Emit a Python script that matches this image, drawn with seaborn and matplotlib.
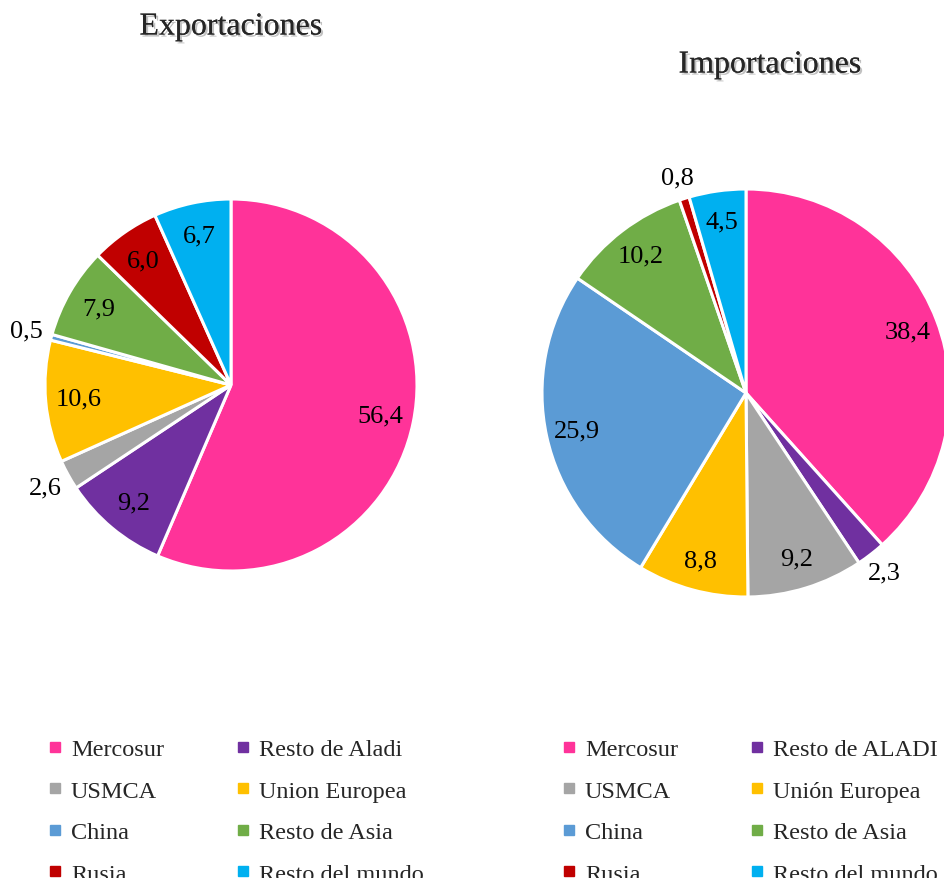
import numpy as np
import seaborn as sns
import matplotlib.pyplot as plt
import matplotlib.patheffects as pe
from matplotlib.lines import Line2D

# Data
exp_labels = ['Mercosur', 'Resto de Aladi', 'USMCA', 'Union Europea',
              'China', 'Resto de Asia', 'Rusia', 'Resto del mundo']
exp_values = [56.4, 9.2, 2.6, 10.6, 0.5, 7.9, 6.0, 6.7]
exp_text = ['56,4', '9,2', '2,6', '10,6', '0,5', '7,9', '6,0', '6,7']

imp_labels = ['Mercosur', 'Resto de ALADI', 'USMCA', 'Unión Europea',
              'China', 'Resto de Asia', 'Rusia', 'Resto del mundo']
imp_values = [38.4, 2.3, 9.2, 8.8, 25.9, 10.2, 0.8, 4.5]
imp_text = ['38,4', '2,3', '9,2', '8,8', '25,9', '10,2', '0,8', '4,5']

colors = ['#FF3399', '#7030A0', '#A5A5A5', '#FFC000',
          '#5B9BD5', '#70AD47', '#C00000', '#00B0F0']

sns.set_theme(style='white')
plt.rcParams['font.family'] = ['Liberation Serif', 'DejaVu Serif']

W, H = 945, 879
fig = plt.figure(figsize=(W / 100, H / 100), dpi=100)
ax = fig.add_axes([0, 0, 1, 1])

pal = sns.color_palette(colors)


def draw_pie(values, texts, center, radius, in_dist, out_dist, small):
    wedges, _ = ax.pie(values, colors=pal, startangle=90, counterclock=False,
                       center=center, radius=radius, normalize=True,
                       wedgeprops=dict(edgecolor='white', linewidth=2.2))
    for w, t, v in zip(wedges, texts, values):
        mid = np.deg2rad((w.theta1 + w.theta2) / 2)
        d = out_dist if v < small else in_dist
        ax.text(center[0] + d * radius * np.cos(mid),
                center[1] + d * radius * np.sin(mid),
                t, ha='center', va='center', fontsize=19, color='black')


draw_pie(exp_values, exp_text, (231, H - 386), 186, 0.82, 1.14, 3)
draw_pie(imp_values, imp_text, (746, H - 394), 204, 0.85, 1.11, 3)

# pie() changes limits, so set them afterwards
ax.set_xlim(0, W)
ax.set_ylim(0, H)
ax.set_aspect('equal')
ax.axis('off')

shadow = [pe.withSimplePatchShadow(offset=(1.5, -1.5), shadow_rgbFace='#999999', alpha=0.6),
          pe.Normal()]
fig.text(231 / W, 1 - 28 / H, 'Exportaciones', ha='center', va='center',
         fontsize=23, path_effects=shadow)
fig.text(770 / W, 1 - 66 / H, 'Importaciones', ha='center', va='center',
         fontsize=23, path_effects=shadow)


def make_legend(labels, x0):
    order = [0, 2, 4, 6, 1, 3, 5, 7]
    handles = [Line2D([], [], marker='s', linestyle='', markersize=6.5,
                      color=colors[i]) for i in order]
    lab = [labels[i] for i in order]
    leg = fig.legend(handles, lab, ncol=2, loc='upper left',
                     bbox_to_anchor=(x0 / W, 1 - 727 / H), frameon=False,
                     fontsize=17.5, handlelength=0.5, handletextpad=0.4,
                     columnspacing=3.0, labelspacing=0.8, borderpad=0)
    return leg


make_legend(exp_labels, 37)
make_legend(imp_labels, 551)

fig.savefig('out.png', dpi=100)
